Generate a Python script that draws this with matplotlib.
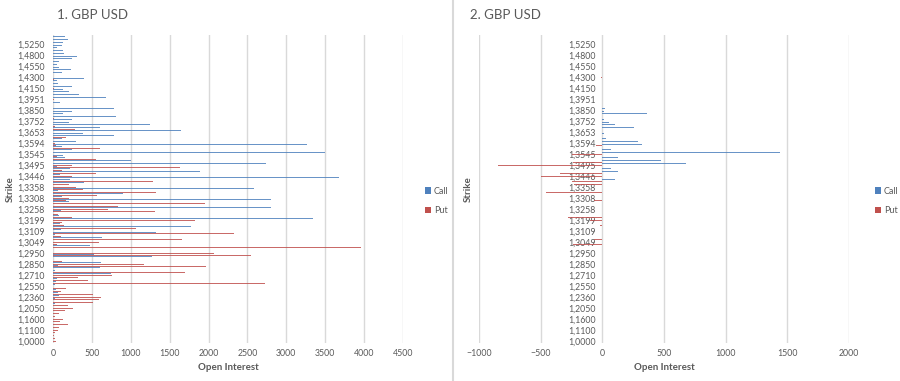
import matplotlib
matplotlib.use("Agg")
import matplotlib.pyplot as plt
import numpy as np
from matplotlib.patches import Patch

plt.rcParams['font.family'] = ['Lato', 'DejaVu Sans']

# Strikes, bottom (index 0) to top
strikes = [
    "1,0000", "1,0500", "1,0800", "1,1000",
    "1,1100", "1,1200", "1,1300", "1,1500",
    "1,1600", "1,1700", "1,1800", "1,1950",
    "1,2050", "1,2150", "1,2250", "1,2300",
    "1,2360", "1,2400", "1,2450", "1,2500",
    "1,2550", "1,2600", "1,2650", "1,2680",
    "1,2710", "1,2750", "1,2780", "1,2820",
    "1,2850", "1,2880", "1,2900", "1,2920",
    "1,2950", "1,2980", "1,3000", "1,3020",
    "1,3049", "1,3060", "1,3079", "1,3090",
    "1,3109", "1,3139", "1,3159", "1,3179",
    "1,3199", "1,3219", "1,3229", "1,3248",
    "1,3258", "1,3268", "1,3288", "1,3298",
    "1,3308", "1,3318", "1,3328", "1,3348",
    "1,3358", "1,3378", "1,3397", "1,3417",
    "1,3446", "1,3456", "1,3466", "1,3476",
    "1,3495", "1,3505", "1,3515", "1,3525",
    "1,3545", "1,3555", "1,3565", "1,3584",
    "1,3594", "1,3604", "1,3624", "1,3643",
    "1,3653", "1,3683", "1,3702", "1,3732",
    "1,3752", "1,3772", "1,3801", "1,3821",
    "1,3850", "1,3870", "1,3900", "1,3931",
    "1,3951", "1,4000", "1,4050", "1,4100",
    "1,4150", "1,4200", "1,4250", "1,4280",
    "1,4300", "1,4350", "1,4400", "1,4500",
    "1,4550", "1,4600", "1,4700", "1,4750",
    "1,4800", "1,4900", "1,5000", "1,5100",
    "1,5250", "1,5500", "1,5750", "1,6000",
]

# Panel 1: open interest
call1 = [
    0, 0, 0, 0, 0, 0, 0, 0, 0, 0, 0, 0, 0, 0, 30, 0,
    20, 80, 70, 40, 0, 20, 40, 50, 0, 750, 20, 610, 60, 620, 0, 1270,
    530, 0, 0, 480, 0, 0, 630, 20, 1330, 100, 1770, 90, 0, 3340, 80, 0,
    100, 2800, 0, 210, 2800, 110, 900, 70,
    2580, 0, 400, 220, 3680, 90, 1890, 220, 50, 2740, 1000, 160, 130, 3500, 250, 120,
    3270, 300, 110, 790, 390, 1650, 600, 1250, 200, 240, 810, 130, 240, 790, 0, 90,
    0, 680, 340, 200, 130, 250, 70, 50, 400, 0, 120, 230, 80, 50, 80, 250,
    310, 140, 130, 50, 120, 130, 190, 150,
]
put1 = [
    40, 30, 10, 30, 60, 80, 190, 90, 130, 30, 80, 150, 260, 190, 510, 590,
    620, 510, 100, 170, 0, 2720, 450, 320, 760, 1700, 0, 1970, 1170, 120, 0, 2550,
    2070, 0, 3960, 50, 590, 1660, 100, 2330, 0, 1070, 140, 120, 1830, 250, 70, 1310,
    710, 840, 1950, 170, 200, 560, 1330, 390,
    300, 210, 1290, 0, 250, 550, 120, 1630, 250, 0, 550, 50, 0, 0, 600, 40,
    30, 0, 170, 0, 0, 280, 20, 0, 0, 10, 0, 0, 0, 0, 0, 0,
    10, 0, 0, 0, 10, 0, 0, 10, 0, 0, 0, 0, 0, 0, 0, 0,
    0, 0, 0, 0, 0, 0, 0, 0,
]

# Panel 2: change (index: value), zero elsewhere
call2_points = {85: 20, 84: 10, 83: 365, 81: 10, 80: 50, 79: 105, 78: 256, 76: 15,
                74: 30, 73: 290, 72: 320, 70: 73, 69: 1440, 67: 127, 66: 473,
                65: 675, 63: 70, 62: 130, 59: 100}
put2_points = {96: -10, 71: -50, 68: -250, 65: -240, 64: -850, 61: -345, 60: -500,
               58: -250, 57: -230, 54: -455, 51: -70, 47: -5, 45: -280, 44: -100,
               42: -20, 37: -70, 35: -240, 26: -5}

n = len(strikes)
call2 = [call2_points.get(i, 0) for i in range(n)]
put2 = [put2_points.get(i, 0) for i in range(n)]

BLUE = "#4F81BD"
RED = "#C0504D"
GRID = "#D9D9D9"
TXT = "#595959"

fig = plt.figure(figsize=(9.0, 3.81), dpi=100)
W, H = 900, 381

def axes_px(x0, x1, y0, y1):
    return fig.add_axes([x0 / W, 1 - y1 / H, (x1 - x0) / W, (y1 - y0) / H])

ax1 = axes_px(53, 403, 35, 343)
ax2 = axes_px(479, 849, 35, 343)

y = np.arange(n)
bh = 0.38
for ax, c, p in ((ax1, call1, put1), (ax2, call2, put2)):
    ax.barh(y - bh / 2, c, height=bh, color=BLUE, linewidth=0, alpha=0.85)
    ax.barh(y + bh / 2, p, height=bh, color=RED, linewidth=0, alpha=0.85)
    ax.set_ylim(-0.5, n - 0.5)
    ax.set_yticks(y[::4])
    ax.set_yticklabels(strikes[::4])
    ax.grid(axis='x', color=GRID, linewidth=1.0)
    ax.set_axisbelow(True)
    for s in ax.spines.values():
        s.set_visible(False)
    ax.tick_params(axis='both', length=0, labelsize=6.3, colors=TXT)
    ax.tick_params(axis='x', pad=4)
    ax.set_xlabel("Open Interest", fontsize=7, fontweight='bold', color=TXT, labelpad=4)

ax1.set_xlim(0, 4500)
ax1.set_xticks(np.arange(0, 4501, 500))
ax1.tick_params(axis='y', pad=6)
ax1.set_ylabel("Strike", fontsize=7, fontweight='bold', color=TXT, labelpad=8)

ax2.set_xlim(-1000, 2000)
ax2.set_xticks(np.arange(-1000, 2001, 500))
ax2.spines['left'].set_position(('data', 0))
ax2.spines['left'].set_visible(False)
ax2.tick_params(axis='y', pad=5)
ax2.set_ylabel("Strike", fontsize=7, fontweight='bold', color=TXT)
ax2.yaxis.set_label_coords((473 - 479) / 370, 0.5)
ax1.yaxis.set_label_coords((15 - 53) / 350, 0.5)

fig.text(57 / W, 1 - 15 / H, "1. GBP USD", fontsize=9.5, color=TXT, va='center', ha='left')
fig.text(470 / W, 1 - 15 / H, "2. GBP USD", fontsize=9.5, color=TXT, va='center', ha='left')

# separator
fig.add_artist(plt.Line2D([453 / W, 453 / W], [0, 1], color=GRID, linewidth=1.5))

handles = [Patch(facecolor=BLUE, label="Call"), Patch(facecolor=RED, label="Put")]
for xl in (425, 875):
    fig.legend(handles=handles, loc='center left', bbox_to_anchor=(xl / W, 1 - 201 / H),
               frameon=False, fontsize=6.5, handlelength=0.7, handleheight=0.7,
               handletextpad=0.3, labelspacing=1.2, labelcolor=TXT,
               borderpad=0, borderaxespad=0)

fig.savefig("out.png", dpi=100)
